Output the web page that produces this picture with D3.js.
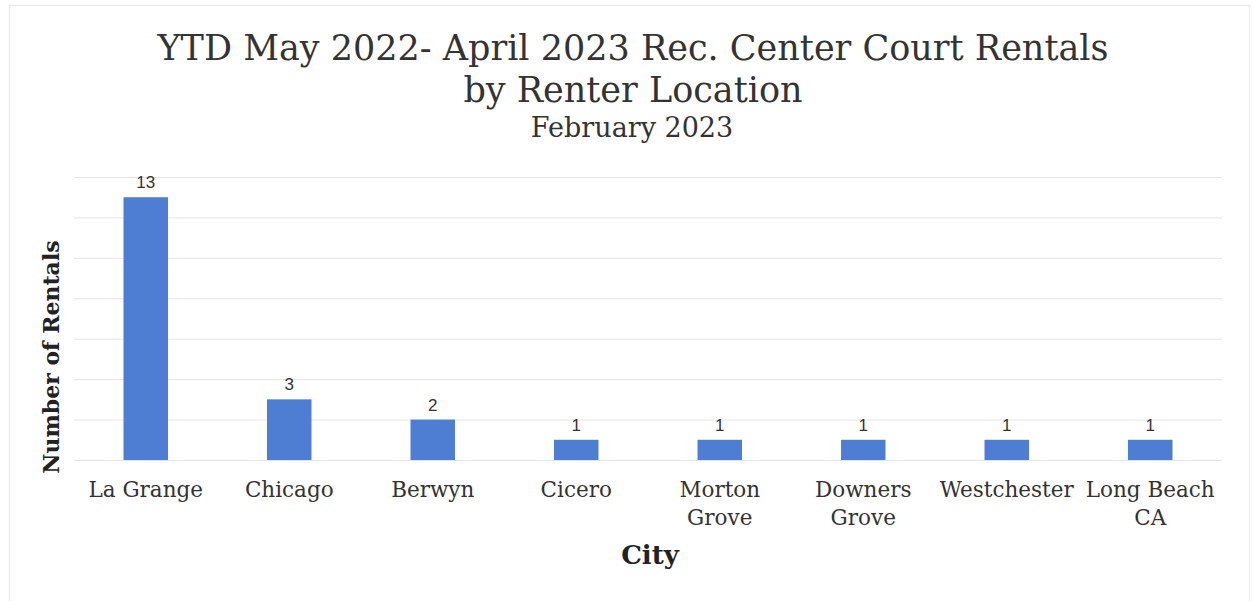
<!DOCTYPE html>
<html>
<head>
<meta charset="utf-8">
<script src="https://cdn.jsdelivr.net/npm/d3@7"></script>
<style>
  html, body { margin: 0; padding: 0; background: #fff; }
  svg { display: block; }
</style>
</head>
<body>
<svg id="chart" width="1254" height="601"></svg>
<script>
// Court rentals by renter location
const cities = ["La Grange", "Chicago", "Berwyn", "Cicero", "Morton Grove", "Downers Grove", "Westchester", "Long Beach CA"];
const rentals = [13, 3, 2, 1, 1, 1, 1, 1];
const cityLabelLines = [["La Grange"], ["Chicago"], ["Berwyn"], ["Cicero"], ["Morton", "Grove"], ["Downers", "Grove"], ["Westchester"], ["Long Beach", "CA"]];
const yTicks = [0, 2, 4, 6, 8, 10, 12, 14];
const titleLines = ["YTD May 2022- April 2023 Rec. Center Court Rentals", "by Renter Location"];
const subtitle = "February 2023";
const xTitle = "City";
const yTitle = "Number of Rentals";

const svg = d3.select("#chart");
const W = 1254, H = 601;
const margin = { left: 74, right: 32, top: 177, bottom: 141 };
const serif = "'DejaVu Serif', serif";

// faint outer frame
svg.append("rect")
  .attr("x", 9.5).attr("y", 5.5)
  .attr("width", 1240).attr("height", 600)
  .attr("fill", "none").attr("stroke", "#ececec").attr("stroke-width", 1.5);

const x = d3.scaleBand()
  .domain(cities)
  .range([margin.left, W - margin.right])
  .paddingInner(0.69)
  .paddingOuter(0.345);

const y = d3.scaleLinear()
  .domain([0, 14])
  .range([H - margin.bottom, margin.top]);

// horizontal gridlines
svg.append("g")
  .attr("transform", `translate(${margin.left},0)`)
  .call(d3.axisLeft(y).tickValues(yTicks).tickSize(-(W - margin.right - margin.left)).tickFormat(""))
  .call(g => g.select(".domain").remove())
  .call(g => g.selectAll(".tick line").attr("stroke", "#e4e4e4").attr("stroke-width", 1));

// bars
svg.append("g")
  .selectAll("rect")
  .data(cities)
  .join("rect")
  .attr("x", d => x(d))
  .attr("width", x.bandwidth())
  .attr("y", (d, i) => y(rentals[i]))
  .attr("height", (d, i) => y(0) - y(rentals[i]))
  .attr("fill", "#4d7ed4");

// value labels
svg.append("g")
  .selectAll("text")
  .data(cities)
  .join("text")
  .attr("x", d => x(d) + x.bandwidth() / 2)
  .attr("y", (d, i) => y(rentals[i]) - 9)
  .attr("text-anchor", "middle")
  .attr("font-family", "'Liberation Sans', Arial, sans-serif")
  .attr("font-size", 17)
  .attr("fill", "#333")
  .text((d, i) => rentals[i]);

// category axis labels
const xAxis = svg.append("g")
  .attr("transform", `translate(0,${y(0)})`)
  .call(d3.axisBottom(x).tickSize(0).tickFormat(""));
xAxis.select(".domain").remove();
xAxis.selectAll(".tick").each(function (d, i) {
  const t = d3.select(this).append("text")
    .attr("y", 37)
    .attr("text-anchor", "middle")
    .attr("font-family", serif)
    .attr("font-size", 21.5)
    .attr("fill", "#333");
  cityLabelLines[i].forEach((line, j) => {
    t.append("tspan").attr("x", 0).attr("dy", j === 0 ? 0 : 28).text(line);
  });
});

// axis titles
svg.append("text")
  .attr("x", 650)
  .attr("y", 564)
  .attr("text-anchor", "middle")
  .attr("font-family", serif)
  .attr("font-weight", "bold")
  .attr("font-size", 26)
  .attr("fill", "#222")
  .text(xTitle);

svg.append("text")
  .attr("transform", `translate(59,${357}) rotate(-90)`)
  .attr("text-anchor", "middle")
  .attr("font-family", serif)
  .attr("font-weight", "bold")
  .attr("font-size", 22)
  .attr("fill", "#222")
  .text(yTitle);

// chart title
svg.append("g")
  .selectAll("text")
  .data(titleLines)
  .join("text")
  .attr("x", 633)
  .attr("y", (d, i) => 60 + i * 42)
  .attr("text-anchor", "middle")
  .attr("font-family", serif)
  .attr("font-size", 35)
  .attr("fill", "#333")
  .text(d => d);

svg.append("text")
  .attr("x", 632)
  .attr("y", 137)
  .attr("text-anchor", "middle")
  .attr("font-family", serif)
  .attr("font-size", 27)
  .attr("fill", "#333")
  .text(subtitle);
</script>
</body>
</html>
